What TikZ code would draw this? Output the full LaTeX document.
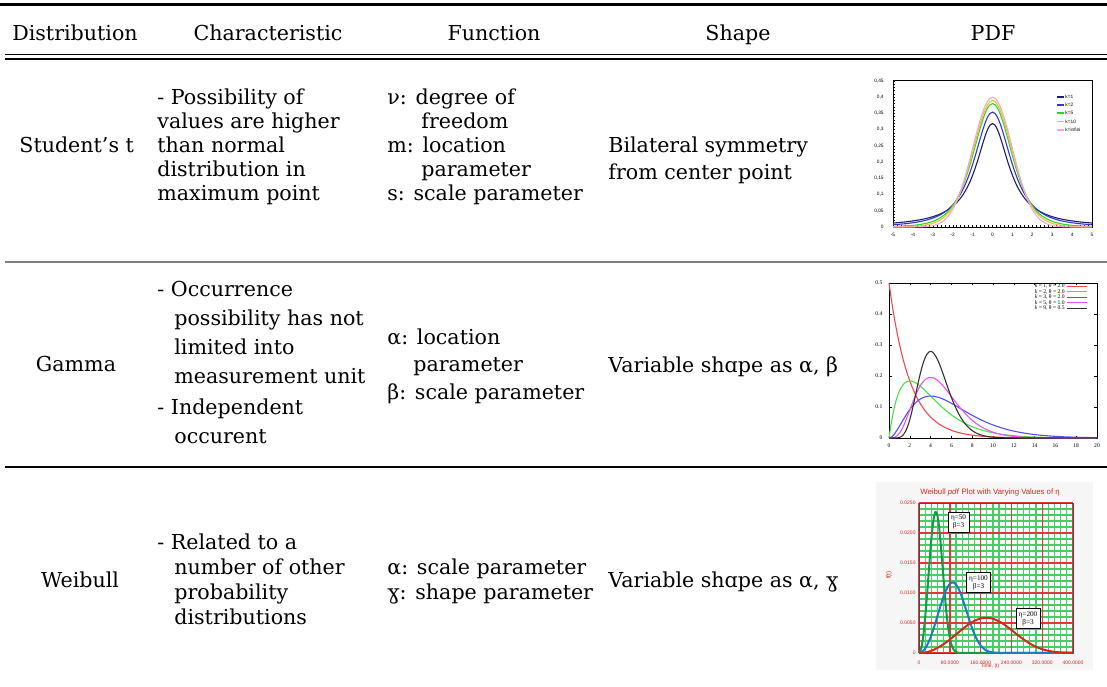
\documentclass[tikz,border=0pt]{standalone}
\usepackage{fontspec}
\setmainfont{DejaVu Serif}
\newfontfamily\plotsf{Liberation Sans}
\newfontfamily\plotrm{Liberation Serif}

\definecolor{rulegray}{HTML}{808080}
\definecolor{tnavy}{HTML}{1C1C70}
\definecolor{tblue}{HTML}{3535C8}
\definecolor{tgreen}{HTML}{2BD62B}
\definecolor{tyellow}{HTML}{E8C428}
\definecolor{tpink}{HTML}{F2A6D2}
\definecolor{gred}{HTML}{F04848}
\definecolor{ggreen}{HTML}{48E048}
\definecolor{gblue}{HTML}{5050F0}
\definecolor{gmag}{HTML}{F050F0}
\definecolor{gblack}{HTML}{303030}
\definecolor{wred}{HTML}{D42A1E}
\definecolor{wgrid}{HTML}{48CC64}
\definecolor{wmajor}{HTML}{E03838}
\definecolor{wgreen}{HTML}{169A4A}
\definecolor{wblue}{HTML}{1E7BC4}

\tikzset{
  cell/.style={anchor=base west, inner sep=0pt, font=\fontsize{10.3}{12}\selectfont},
  headcell/.style={anchor=base, inner sep=0pt, font=\fontsize{10.3}{12}\selectfont},
  tsf/.style={inner sep=0pt, font=\plotsf\fontsize{2.4}{3}\selectfont},
  trm/.style={inner sep=0pt, font=\plotrm\fontsize{2.8}{3.2}\selectfont},
  wsf/.style={inner sep=0pt, text=wred, font=\plotsf\fontsize{2.5}{3}\selectfont},
  wbox/.style={draw, fill=white, line width=0.3pt, align=center, inner sep=1.4pt,
    font=\plotrm\fontsize{3.6}{4}\selectfont},
  curve/.style={line width=0.55pt, smooth},
  minorgrid/.style={wgrid, line width=0.6pt},
  majorgrid/.style={wmajor, line width=0.7pt},
  declare function={gu(\t)=\t*exp(-\t/4);
    weib(\t,\e)=3000/\e*(\t/\e)^2*exp(-min((\t/\e)^3,20));}
}

\begin{document}
\begin{tikzpicture}[x=0.5pt, y=-0.5pt]
\useasboundingbox (0,0) rectangle (1107,686);

% rules
\draw[line width=1.65pt] (0,4.3) -- (1107,4.3);
\draw[line width=0.5pt] (5,54) -- (1107,54);
\draw[line width=1pt] (5,58.5) -- (1107,58.5);
\draw[rulegray, line width=0.9pt] (5,262) -- (1107,262);
\draw[line width=0.6pt] (5,467) -- (1107,467);

% header
\node[headcell] (hdist) at (75,40) {Distribution};
\node[headcell] (hchar) at (268,40) {Characteristic};
\node[headcell] (hfun) at (494,40) {Function};
\node[headcell] (hshape) at (738,40) {Shape};
\node[headcell] (hpdf) at (993,40) {PDF};

% Student's t
\node[cell] (dist1) at (19,152) {Student’s t};
\foreach \txt [count=\i from 0] in {- Possibility of, values are higher, than normal, distribution in, maximum point}
  \node[cell] (char1-\i) at (157,{104+24.2*\i}) {\txt};
\foreach \x/\y/\txt [count=\i] in {387/104/ν: degree of, 421/128.2/freedom, 387/152.4/m: location,
    421/176.6/parameter, 387/200.8/s: scale parameter}
  \node[cell] (fun1-\i) at (\x,\y) {\txt};
\node[cell] (shape1-1) at (608,152) {Bilateral symmetry};
\node[cell] (shape1-2) at (608,179) {from center point};

% Gamma
\node[headcell] (dist2) at (76,371) {Gamma};
\foreach \x/\y/\txt [count=\i] in {157/296/- Occurrence, 174/325/possibility has not, 174/354/limited into,
    174/383/measurement unit, 157/414/- Independent, 174/443/occurent}
  \node[cell] (char2-\i) at (\x,\y) {\txt};
\foreach \x/\y/\txt [count=\i] in {387/344/α: location, 413/371/parameter, 387/399/β: scale parameter}
  \node[cell] (fun2-\i) at (\x,\y) {\txt};
\node[cell] (shape2) at (608,372) {Variable shɑpe as α, β};

% Weibull
\node[headcell] (dist3) at (80,587) {Weibull};
\foreach \x/\y/\txt [count=\i] in {157/549.5/- Related to a, 174/574.5/number of other,
    174/599.5/probability, 174/624.5/distributions}
  \node[cell] (char3-\i) at (\x,\y) {\txt};
\node[cell] (fun3-1) at (387,574.5) {α: scale parameter};
\node[cell] (fun3-2) at (387,599.5) {ɣ: shape parameter};
\node[cell] (shape3) at (608,587) {Variable shɑpe as α, ɣ};

% pdf of student's t
\begin{scope}[shift={(992.5,227)}, xscale=19.9, yscale=-325]
  \draw[line width=0.4pt] (-5,0) rectangle (5,0.45);
  \foreach \x in {-5,-4.8,...,5} \draw[line width=0.2pt] (\x,0) -- (\x,0.005);
  \foreach \y in {0,0.01,...,0.45} \draw[line width=0.2pt] (-5,\y) -- (-4.88,\y);
  \foreach \x in {-5,...,5} \node[tsf, anchor=north] (tx\x) at (\x,-0.018) {\x};
  \foreach \y/\l in {0/0, 0.05/{0,05}, 0.1/{0,1}, 0.15/{0,15}, 0.2/{0,2}, 0.25/{0,25},
      0.3/{0,3}, 0.35/{0,35}, 0.4/{0,4}, 0.45/{0,45}}
    \node[tsf, anchor=east] at (-5.45,\y) {\l};
  \foreach \dof/\c/\col in {1/0.31831/tnavy, 2/0.35355/tblue, 5/0.37961/tgreen, 10/0.38911/tyellow}
    \draw[\col, curve] plot[domain=-5:5, samples=81] (\x,{\c*(1+\x*\x/\dof)^(-(\dof+1)/2)});
  \draw[tpink, curve] plot[domain=-5:5, samples=81] (\x,{0.39894*exp(-\x*\x/2)});
\end{scope}
\foreach \y/\col/\l in {97/tnavy/k=1, 105/tblue/k=2, 113/tgreen/k=5, 121.5/tyellow/k=10, 130/tpink/k=infini} {
  \draw[\col, line width=0.6pt] (1057,\y) -- (1064,\y);
  \node[tsf, anchor=west] at (1065,\y) {\l};
}

% pdf of gamma
\begin{scope}[shift={(889,438)}, xscale=10.4, yscale=-310]
  \draw[line width=0.4pt] (0,0) rectangle (20,0.5);
  \foreach \x in {0,2,...,20} {
    \draw[line width=0.3pt] (\x,0) -- (\x,0.008) (\x,0.5) -- (\x,0.492);
    \node[trm, anchor=north] (gx\x) at (\x,-0.018) {\x};
  }
  \foreach \y/\l in {0/0, 0.1/0.1, 0.2/0.2, 0.3/0.3, 0.4/0.4, 0.5/0.5} {
    \draw[line width=0.3pt] (0,\y) -- (0.25,\y) (20,\y) -- (19.75,\y);
    \node[trm, anchor=east] at (-0.6,\y) {\l};
  }
  \draw[gred, curve] plot[domain=0:20, samples=81] (\x,{0.5*exp(-\x/2)});
  \draw[ggreen, curve] plot[domain=0:20, samples=81] (\x,{\x*exp(-\x/2)/4});
  \draw[gblue, curve] plot[domain=0:20, samples=81] (\x,{gu(\x)^2/16});
  \draw[gmag, curve] plot[domain=0:20, samples=101] (\x,{gu(\x)^4/24});
  \draw[gblack, curve] plot[domain=0:20, samples=121] (\x,{0.012698*gu(\x)^8});
\end{scope}
\foreach \y/\col/\l in {286/gred/{\textit{k} = 1, θ = 2.0}, 291.5/ggreen/{\textit{k} = 2, θ = 2.0},
    297/gblue/{\textit{k} = 3, θ = 2.0}, 302.5/gmag/{\textit{k} = 5, θ = 1.0}, 308/gblack/{\textit{k} = 9, θ = 0.5}} {
  \draw[\col, line width=0.5pt] (1067,\y) -- (1087,\y);
  \node[trm, anchor=east] at (1065,\y) {\l};
}

% pdf of weibull
\fill[gray!7] (876,482) rectangle (1093,670);
\node[wsf, font=\plotsf\fontsize{3.9}{4.5}\selectfont] (wtitle) at (990,492)
  {Weibull \textit{pdf} Plot with Varying Values of η};
\begin{scope}[shift={(919,653)}, xscale=0.385, yscale=-6]
  \fill[white] (0,0) rectangle (400,25);
  \foreach \gx in {0,16,...,400} \draw[minorgrid] (\gx,0) -- (\gx,25);
  \foreach \gy in {0,...,25} \draw[minorgrid] (0,\gy) -- (400,\gy);
  \foreach \gx in {0,80,...,400} \draw[majorgrid] (\gx,0) -- (\gx,25);
  \foreach \gy in {0,5,...,25} \draw[majorgrid] (0,\gy) -- (400,\gy);
  \draw[gray!60!black, line width=0.4pt] (0,0) rectangle (400,25);
  \foreach \gx/\l in {0/0, 80/80.0000, 160/160.0000, 240/240.0000, 320/320.0000, 400/400.0000}
    \node[wsf, anchor=north] at (\gx,-1.2) {\l};
  \foreach \gy/\l in {0/0, 5/0.0050, 10/0.0100, 15/0.0150, 20/0.0200, 25/0.0250}
    \node[wsf, anchor=east] at (-8,\gy) {\l};
  \draw[wgreen, line width=1pt, smooth] plot[domain=0:400, samples=161] (\x,{weib(\x,50)});
  \draw[wblue, line width=1pt, smooth] plot[domain=0:400, samples=121] (\x,{weib(\x,100)});
  \draw[wred, line width=1pt, smooth] plot[domain=0:400, samples=101] (\x,{weib(\x,200)});
\end{scope}
\node[wsf] (wtime) at (990,666) {Time, (t)};
\node[wsf, rotate=90, font=\plotsf\fontsize{3.2}{4}\selectfont] (wfy) at (889,575) {f(t)};
\node[wbox] (eta50) at (958.5,522) {η=50\\β=3};
\node[wbox] (eta100) at (978.5,582.5) {η=100\\β=3};
\node[wbox] (eta200) at (1028,618.5) {η=200\\β=3};

\end{tikzpicture}
\end{document}
